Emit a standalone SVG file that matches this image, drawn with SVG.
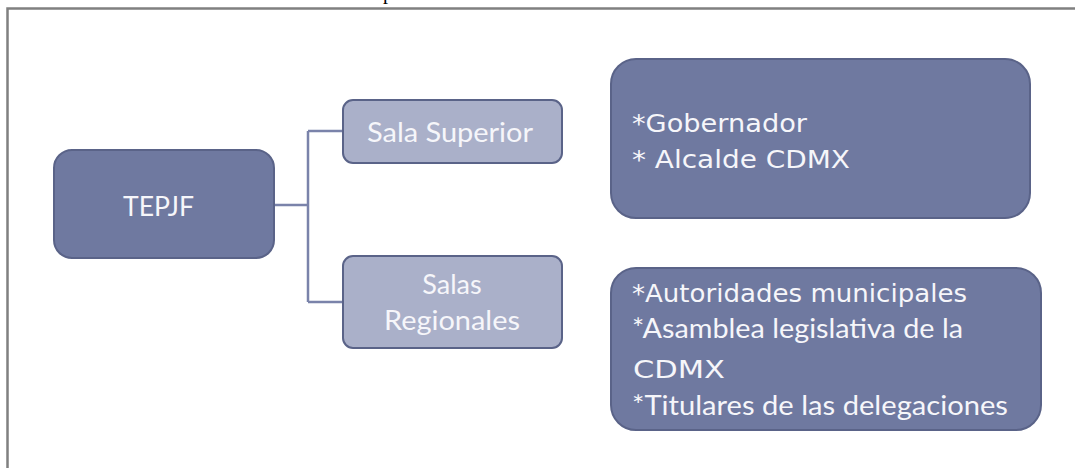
<svg xmlns="http://www.w3.org/2000/svg" width="1075" height="468" viewBox="0 0 1075 468">
<style>
.dark{fill:#6f79a0;stroke:#5a6388;stroke-width:2}
.light{fill:#aab0c9;stroke:#5a6388;stroke-width:2}
.conn{fill:none;stroke:#7a83aa;stroke-width:2.5}
.t{fill:#f6f6fa;font-family:Lato,"Open Sans",sans-serif;font-size:27px}
.v{fill:#f6f6fa;font-family:"DejaVu Sans",Verdana,sans-serif;font-size:25px}
.frame{fill:none;stroke:#808080;stroke-width:2.5}
</style>
<path class="frame" d="M7.5,1100 V8.5 H1080"/>
<text x="383" y="-1" font-family="Liberation Serif,serif" font-size="20" fill="#000">p</text>
<g id="connectors">
<path class="conn" d="M274,205 H308 M308,131 V302 M308,131 H343 M308,302 H343"/>
</g>
<g id="tepjf">
<rect class="dark" x="54" y="150" width="220" height="108" rx="18"/>
<text class="t" x="123" y="216" textLength="71" lengthAdjust="spacingAndGlyphs">TEPJF</text>
</g>
<g id="sala-superior">
<rect class="light" x="343" y="100" width="219" height="63" rx="10"/>
<text class="t" x="367" y="142" textLength="166" lengthAdjust="spacingAndGlyphs">Sala Superior</text>
</g>
<g id="salas-regionales">
<rect class="light" x="343" y="256" width="219" height="92" rx="10"/>
<text class="t" x="452" y="294" text-anchor="middle">Salas</text>
<text class="t" x="384" y="330" textLength="136" lengthAdjust="spacingAndGlyphs">Regionales</text>
</g>
<g id="box-superior">
<rect class="dark" x="611" y="59" width="419" height="159" rx="25"/>
<text class="v" x="632" y="132" textLength="175" lengthAdjust="spacingAndGlyphs">*Gobernador</text>
<text class="v" x="632" y="168" textLength="218" lengthAdjust="spacingAndGlyphs">* Alcalde  CDMX</text>
</g>
<g id="box-regionales">
<rect class="dark" x="611" y="268" width="430" height="162" rx="25"/>
<text class="v" x="632" y="302" textLength="335" lengthAdjust="spacingAndGlyphs">*Autoridades  municipales</text>
<text class="t" x="632" y="338" textLength="331" lengthAdjust="spacingAndGlyphs">*Asamblea legislativa de la</text>
<text class="v" x="633" y="378" textLength="92" lengthAdjust="spacingAndGlyphs">CDMX</text>
<text class="t" x="632" y="415" textLength="376" lengthAdjust="spacingAndGlyphs">*Titulares de las delegaciones</text>
</g>
</svg>
